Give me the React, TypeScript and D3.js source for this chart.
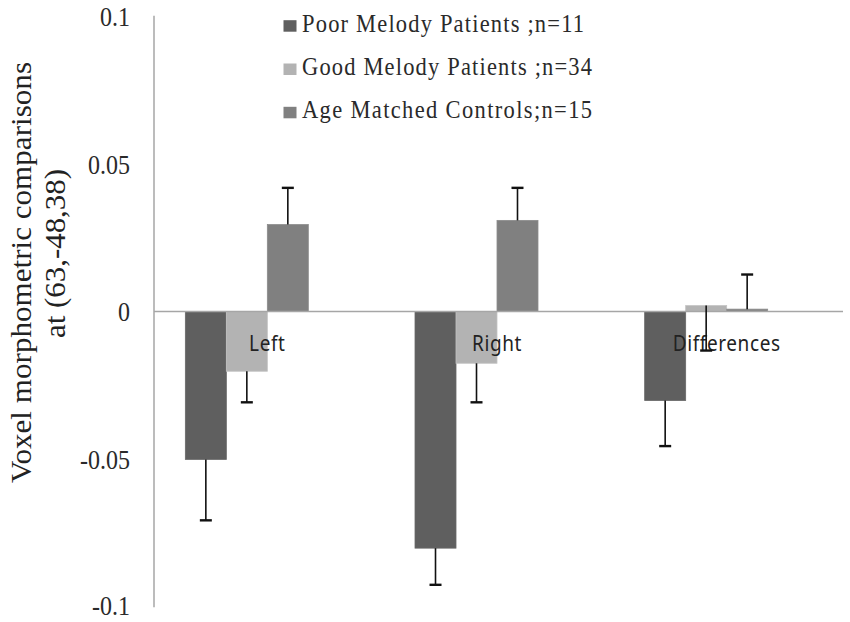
import React from "react";
import * as d3 from "d3";

const categories = ["Left", "Right", "Differences"];
const seriesNames = [
  "Poor Melody Patients ;n=11",
  "Good Melody Patients ;n=34",
  "Age Matched Controls;n=15",
];
const poorValues = [-0.05, -0.08, -0.0301];
const goodValues = [-0.0202, -0.0175, 0.002];
const ageValues = [0.0294, 0.0308, 0.0008];
const poorErrors = [0.0206, 0.0124, 0.0154];
const goodErrors = [0.0105, 0.0132, 0.0152];
const ageErrors = [0.0124, 0.011, 0.0117];
// Excel error bar direction per series: -1 minus, +1 plus
const errorDirections = [-1, -1, 1];
const yTicks = [0.1, 0.05, 0, -0.05, -0.1];
const yTickLabels = ["0.1", "0.05", "0", "-0.05", "-0.1"];
const yTitleLines = ["Voxel morphometric comparisons", "at (63,-48,38)"];
// four slots per category (the fourth series slot is empty in the original)
const seriesSlots = ["poor", "good", "age", "empty"];

const seriesValues = [poorValues, goodValues, ageValues];
const seriesErrors = [poorErrors, goodErrors, ageErrors];
const colors = ["#5f5f5f", "#b3b3b3", "#808080"];

// layout (styling only)
const legendTextWidths = [282, 290, 290];
const yTitleLayout = [
  { x: 31, cy: 272.5, len: 421 },
  { x: 65, cy: 253.5, len: 169 },
];

export default function App() {
  const width = 850;
  const height = 622;
  const y = d3.scaleLinear().domain([-0.1, 0.1]).range([607.3, 15.7]);
  const x0 = d3
    .scaleBand<string>()
    .domain(categories)
    .range([152.5, 841.5])
    .paddingInner(0.286)
    .paddingOuter(0.143);
  const x1 = d3
    .scaleBand<string>()
    .domain(seriesSlots)
    .range([0, x0.bandwidth()]);

  const axisX = 154;
  const serif = "Liberation Serif";
  const sans = "Noto Sans";

  return (
    <svg
      width={width}
      height={height}
      style={{ position: "absolute", left: 0, top: 0, background: "#fff" }}
    >
      <rect x={0} y={0} width={width} height={height} fill="#fff" />
      {/* y axis */}
      <line x1={axisX} x2={axisX} y1={y(0.1)} y2={y(-0.1)} stroke="#a0a0a0" strokeWidth={1.4} />
      {yTicks.map((t, i) => (
        <text
          key={t}
          transform={`translate(130,${Math.min(y(t) + 1, 606)}) scale(1,1.12)`}
          textAnchor="end"
          dominantBaseline="central"
          fontFamily={serif}
          fontSize={24}
          fill="#2a2a2a"
        >
          {yTickLabels[i]}
        </text>
      ))}
      {/* y title */}
      {yTitleLines.map((line, i) => (
        <text
          key={line}
          transform={`translate(${yTitleLayout[i].x},${yTitleLayout[i].cy}) rotate(-90)`}
          textAnchor="middle"
          fontFamily={serif}
          fontSize={29}
          fill="#222"
          textLength={yTitleLayout[i].len}
          lengthAdjust="spacingAndGlyphs"
        >
          {line}
        </text>
      ))}
      {/* bars */}
      {seriesValues.map((vals, s) =>
        vals.map((v, c) => {
          const bx = (x0(categories[c]) as number) + (x1(seriesSlots[s]) as number);
          const top = Math.min(y(v), y(0));
          const h = Math.abs(y(v) - y(0));
          return (
            <rect
              key={`b${s}-${c}`}
              x={bx}
              y={top}
              width={x1.bandwidth()}
              height={h}
              fill={colors[s]}
              stroke={d3.color(colors[s])!.brighter(0.25).toString()}
              strokeWidth={0.8}
            />
          );
        })
      )}
      {/* zero line */}
      <line x1={axisX} x2={843} y1={y(0)} y2={y(0)} stroke="#a6a6a6" strokeWidth={1.6} />
      {/* category labels */}
      {categories.map((c) => (
        <text
          key={c}
          transform={`translate(${(x0(c) as number) + x0.bandwidth() / 2},351) scale(1,1.1)`}
          textAnchor="middle"
          fontFamily={sans}
          fontSize={19}
          letterSpacing={0.6}
          fill="#222"
        >
          {c}
        </text>
      ))}
      {/* error bars */}
      {seriesValues.map((vals, s) =>
        vals.map((v, c) => {
          const cx =
            (x0(categories[c]) as number) +
            (x1(seriesSlots[s]) as number) +
            x1.bandwidth() / 2;
          const end = v + errorDirections[s] * seriesErrors[s][c];
          return (
            <g key={`e${s}-${c}`}>
              <line x1={cx} x2={cx} y1={y(v)} y2={y(end)} stroke="#111" strokeWidth={1.6} />
              <line x1={cx - 6} x2={cx + 6} y1={y(end)} y2={y(end)} stroke="#111" strokeWidth={2.4} />
            </g>
          );
        })
      )}
      {/* legend */}
      {seriesNames.map((name, i) => {
        const base = 31.7 + i * 43.3;
        return (
          <g key={name}>
            <rect x={283.5} y={base - 11.5} width={13} height={11.5} fill={colors[i]} />
            <text
              transform={`translate(302,${base}) scale(1,1.13)`}
              fontFamily={serif}
              fontSize={22.5}
              fill="#2a2a2a"
              textLength={legendTextWidths[i]}
              lengthAdjust="spacing"
            >
              {name}
            </text>
          </g>
        );
      })}
    </svg>
  );
}
